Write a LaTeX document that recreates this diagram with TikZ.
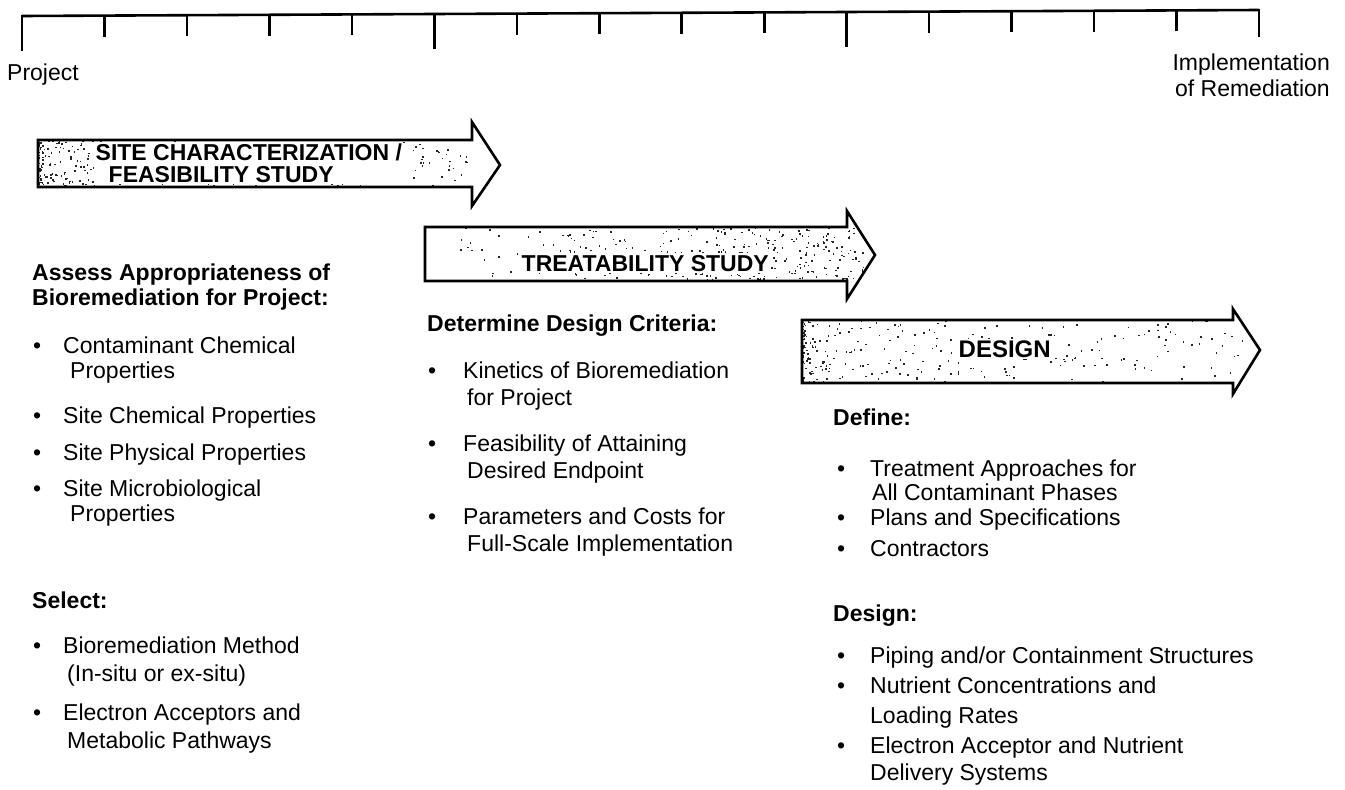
\documentclass[tikz,border=0pt]{standalone}
\usepackage{fontspec}
\setmainfont{Liberation Sans}
\begin{document}
\begin{tikzpicture}[x=1pt,y=-1pt,
  txt/.style={font=\fontsize{23}{27}\selectfont, anchor=base west, inner sep=0pt},
  hd/.style={txt, font=\fontsize{23}{27}\selectfont\bfseries},
  alabel/.style={font=\fontsize{23}{22}\selectfont\bfseries, anchor=base west, inner sep=1.5pt, align=left, fill=white},
  phase/.style={draw=black, line width=2.6pt, line join=miter},
  tline/.style={line width=2.6pt},
  speck/.style={fill=black!85},
]
\useasboundingbox (0,0) rectangle (1345,790);
\pgfmathsetseed{4711}

% timeline
\coordinate (tl) at (22,16);
\coordinate (tr) at (1259,10);
\draw[tline] (tl) -- (tr);
\foreach \i in {0,...,15}{
  \pgfmathtruncatemacro\m{mod(\i,5)}
  \pgfmathsetmacro\yy{16-6*\i/15}
  \ifnum\m=0 \def\len{36}\else\def\len{22}\fi
  \ifnum\i=15 \def\len{28}\fi
  \draw[tline] (22+\i*82.47,\yy-1) -- ++(0,\len);
}
\node[txt] (proj) at (7,80) {Project};
\node[txt, anchor=base east] (impl1) at (1330,70) {Implementation};
\node[txt, anchor=base east] (impl2) at (1330,96) {of Remediation};

% phase arrow 1
\def\arrA{(38,140) -- (472,140) -- (472,122) -- (500,165) -- (472,206) -- (472,187) -- (38,187) -- cycle}
\begin{scope}
  \clip \arrA;
  \foreach \k in {1,...,360}{
    \pgfmathsetmacro\xx{38+430*rnd^2}
    \pgfmathsetmacro\yy{140+47*rnd}
    \fill[speck] (\xx,\yy) rectangle ++(1.6,1.6);
  }
\end{scope}
\node[alabel] (a1) at (94,182) {SITE CHARACTERIZATION /\\\hspace*{13pt}FEASIBILITY STUDY};
\draw[phase] \arrA;

% phase arrow 2
\def\arrB{(425,227) -- (847,227) -- (847,211) -- (875,255) -- (847,299) -- (847,281) -- (425,281) -- cycle}
\begin{scope}
  \clip \arrB;
  \foreach \k in {1,...,320}{
    \pgfmathsetmacro\xx{425+440*sqrt(rnd)}
    \pgfmathsetmacro\yy{227+54*rnd}
    \fill[speck] (\xx,\yy) rectangle ++(1.6,1.6);
  }
\end{scope}
\node[alabel] (a2) at (520,271) {TREATABILITY STUDY};
\draw[phase] \arrB;

% phase arrow 3
\def\arrC{(802,320) -- (1233,320) -- (1233,309) -- (1260,350) -- (1233,394) -- (1233,383) -- (802,383) -- cycle}
\begin{scope}
  \clip \arrC;
  \foreach \k in {1,...,260}{
    \pgfmathsetmacro\xx{802+440*rnd^2}
    \pgfmathsetmacro\yy{320+63*rnd}
    \fill[speck] (\xx,\yy) rectangle ++(1.6,1.6);
  }
\end{scope}
\node[alabel, font=\fontsize{24}{22}\selectfont\bfseries] (a3) at (957,357) {DESIGN};
\draw[phase] \arrC;

% column 1
\node[hd] (c1h1) at (32,280) {Assess Appropriateness of};
\node[hd] (c1h2) at (32,305) {Bioremediation for Project:};
\node[txt] (c1b1) at (33,353) {•};
\node[txt] (c1t1) at (63,353) {Contaminant Chemical};
\node[txt] (c1t1b) at (70,378) {Properties};
\node[txt] (c1b2) at (33,423) {•};
\node[txt] (c1t2) at (63,423) {Site Chemical Properties};
\node[txt] (c1b3) at (33,460) {•};
\node[txt] (c1t3) at (63,460) {Site Physical Properties};
\node[txt] (c1b4) at (33,496) {•};
\node[txt] (c1t4) at (63,496) {Site Microbiological};
\node[txt] (c1t4b) at (70,521) {Properties};
\node[hd] (c1h3) at (32,608) {Select:};
\node[txt] (c1b5) at (33,653) {•};
\node[txt] (c1t5) at (63,653) {Bioremediation Method};
\node[txt] (c1t5b) at (67,681) {(In-situ or ex-situ)};
\node[txt] (c1b6) at (33,720) {•};
\node[txt] (c1t6) at (63,720) {Electron Acceptors and};
\node[txt] (c1t6b) at (67,748) {Metabolic Pathways};

% column 2
\node[hd] (c2h1) at (427,331) {Determine Design Criteria:};
\node[txt] (c2b1) at (428,378) {•};
\node[txt] (c2t1) at (463,378) {Kinetics of Bioremediation};
\node[txt] (c2t1b) at (467,405) {for Project};
\node[txt] (c2b2) at (428,451) {•};
\node[txt] (c2t2) at (463,451) {Feasibility of Attaining};
\node[txt] (c2t2b) at (467,478) {Desired Endpoint};
\node[txt] (c2b3) at (428,524) {•};
\node[txt] (c2t3) at (463,524) {Parameters and Costs for};
\node[txt] (c2t3b) at (467,551) {Full-Scale Implementation};

% column 3
\node[hd] (c3h1) at (833,425) {Define:};
\node[txt] (c3b1) at (837,476) {•};
\node[txt] (c3t1) at (870,476) {Treatment Approaches for};
\node[txt] (c3t1b) at (872,500) {All Contaminant Phases};
\node[txt] (c3b2) at (837,525) {•};
\node[txt] (c3t2) at (870,525) {Plans and Specifications};
\node[txt] (c3b3) at (837,556) {•};
\node[txt] (c3t3) at (870,556) {Contractors};
\node[hd] (c3h2) at (833,621) {Design:};
\node[txt] (c3b4) at (837,663) {•};
\node[txt] (c3t4) at (870,663) {Piping and/or Containment Structures};
\node[txt] (c3b5) at (837,693) {•};
\node[txt] (c3t5) at (870,693) {Nutrient Concentrations and};
\node[txt] (c3t5b) at (870,723) {Loading Rates};
\node[txt] (c3b6) at (837,753) {•};
\node[txt] (c3t6) at (870,753) {Electron Acceptor and Nutrient};
\node[txt] (c3t6b) at (870,780) {Delivery Systems};
\end{tikzpicture}
\end{document}
